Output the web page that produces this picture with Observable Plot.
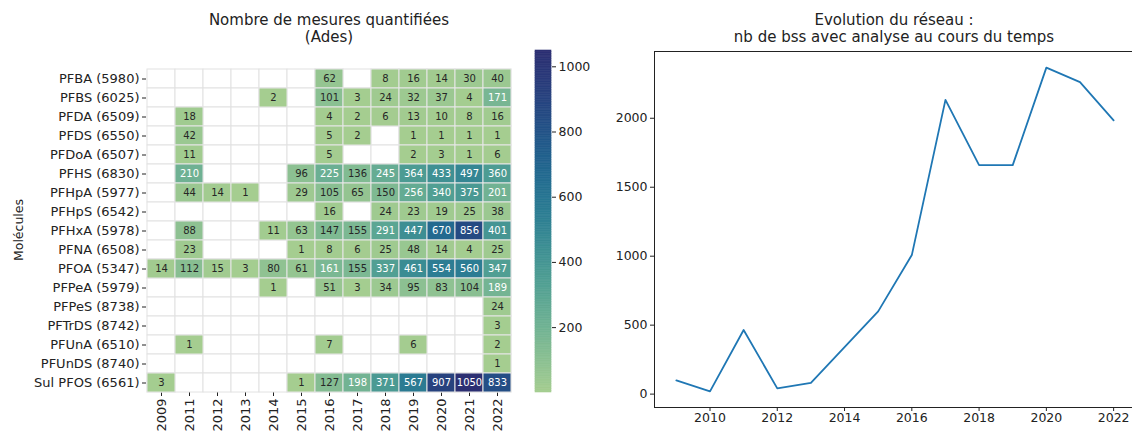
<!DOCTYPE html>
<html>
<head>
<meta charset="utf-8">
<script src="https://cdn.jsdelivr.net/npm/d3@7"></script>
<script src="https://cdn.jsdelivr.net/npm/@observablehq/plot@0.6"></script>
<style>
  html, body { margin: 0; padding: 0; background: #fff; }
  #wrap { position: relative; width: 1132px; height: 432px; overflow: hidden; font-family: "DejaVu Sans", sans-serif; color: #222; }
  .abs { position: absolute; }
  .title { font-size: 15px; text-align: center; line-height: 17px; white-space: nowrap; }
  svg { overflow: visible; }
</style>
</head>
<body>
<div id="wrap"></div>
<script>
// ---------- Heatmap data ----------
const years = ["2009","2011","2012","2013","2014","2015","2016","2017","2018","2019","2020","2021","2022"];
const molecules = ["PFBA (5980)","PFBS (6025)","PFDA (6509)","PFDS (6550)","PFDoA (6507)","PFHS (6830)","PFHpA (5977)","PFHpS (6542)","PFHxA (5978)","PFNA (6508)","PFOA (5347)","PFPeA (5979)","PFPeS (8738)","PFTrDS (8742)","PFUnA (6510)","PFUnDS (8740)","Sul PFOS (6561)"];
// one array per molecule, aligned with `years` (null = no measure)
const PFBA   = [null,null,null,null,null,null,62,null,8,16,14,30,40];
const PFBS   = [null,null,null,null,2,null,101,3,24,32,37,4,171];
const PFDA   = [null,18,null,null,null,null,4,2,6,13,10,8,16];
const PFDS   = [null,42,null,null,null,null,5,2,null,1,1,1,1];
const PFDoA  = [null,11,null,null,null,null,5,null,null,2,3,1,6];
const PFHS   = [null,210,null,null,null,96,225,136,245,364,433,497,360];
const PFHpA  = [null,44,14,1,null,29,105,65,150,256,340,375,201];
const PFHpS  = [null,null,null,null,null,null,16,null,24,23,19,25,38];
const PFHxA  = [null,88,null,null,11,63,147,155,291,447,670,856,401];
const PFNA   = [null,23,null,null,null,1,8,6,25,48,14,4,25];
const PFOA   = [14,112,15,3,80,61,161,155,337,461,554,560,347];
const PFPeA  = [null,null,null,null,1,null,51,3,34,95,83,104,189];
const PFPeS  = [null,null,null,null,null,null,null,null,null,null,null,null,24];
const PFTrDS = [null,null,null,null,null,null,null,null,null,null,null,null,3];
const PFUnA  = [null,1,null,null,null,null,7,null,null,6,null,null,2];
const PFUnDS = [null,null,null,null,null,null,null,null,null,null,null,null,1];
const SulPFOS= [3,null,null,null,null,1,127,198,371,567,907,1050,833];
const heatRows = [PFBA,PFBS,PFDA,PFDS,PFDoA,PFHS,PFHpA,PFHpS,PFHxA,PFNA,PFOA,PFPeA,PFPeS,PFTrDS,PFUnA,PFUnDS,SulPFOS];
const colorTicks = [200,400,600,800,1000];

// ---------- Line chart data ----------
const lineYears = [2009,2010,2011,2012,2013,2014,2015,2016,2017,2018,2019,2020,2021,2022];
const lineValues = [100,20,465,42,82,340,600,1008,2133,1660,1660,2367,2262,1985];
const lineXTicks = [2010,2012,2014,2016,2018,2020,2022];
const lineYTicks = [0,500,1000,1500,2000];

// ---------- build tables ----------
const grid = [];
const cells = [];
molecules.forEach((m, i) => years.forEach((y, j) => {
  grid.push({mol: m, year: y});
  const v = heatRows[i][j];
  if (v != null) cells.push({mol: m, year: y, value: v});
}));

const crest = d3.interpolateRgbBasis(["#a5cd90","#7db993","#58a593","#3b8e93","#257593","#1f5c8c","#28427f","#2c2f72"]);
const colorDomain = [1, 1050];
const colorOpt = {type: "linear", domain: colorDomain, interpolate: crest};

const wrap = document.getElementById("wrap");
function place(el, left, top) { el.style.position = "absolute"; el.style.left = left + "px"; el.style.top = top + "px"; wrap.appendChild(el); return el; }
function addText(html, left, top, cls, extra) {
  const d = document.createElement("div");
  d.className = "abs " + (cls || "");
  d.innerHTML = html;
  d.style.left = left + "px"; d.style.top = top + "px";
  if (extra) Object.assign(d.style, extra);
  wrap.appendChild(d);
  return d;
}

// ---------- Heatmap ----------
const heat = Plot.plot({
  width: 525, height: 432,
  marginLeft: 146, marginRight: 13, marginTop: 68, marginBottom: 40,
  style: {fontFamily: "DejaVu Sans, sans-serif", fontSize: "13px", color: "#222", background: "transparent"},
  x: {domain: years, padding: 0, label: null, tickRotate: -90, tickSize: 4, tickPadding: 2},
  y: {domain: molecules, padding: 0, label: null, tickSize: 4, tickPadding: 3},
  color: colorOpt,
  marks: [
    Plot.cell(grid, {x: "year", y: "mol", fill: "white", stroke: "#e2e2e2", strokeWidth: 1, inset: 0}),
    Plot.cell(cells, {x: "year", y: "mol", fill: "value", stroke: "#e6e6e6", strokeWidth: 1, inset: 0}),
    Plot.text(cells, {x: "year", y: "mol", text: d => String(d.value), fontSize: 10,
      fill: d => d.value >= 158 ? "#ffffff" : "#262626"})
  ]
});
place(heat, 0, 0);

// colorbar
const bands = d3.range(0, 200).map(i => {
  const a = colorDomain[0] + (colorDomain[1] - colorDomain[0]) * i / 200;
  const b = colorDomain[0] + (colorDomain[1] - colorDomain[0]) * (i + 1) / 200;
  return {y1: a, y2: b, v: (a + b) / 2};
});
const cbar = Plot.plot({
  width: 60, height: 432,
  marginLeft: 0, marginRight: 44, marginTop: 50, marginBottom: 40,
  style: {fontFamily: "DejaVu Sans, sans-serif", fontSize: "12.5px", color: "#222", background: "transparent"},
  x: {axis: null, domain: [0, 1]},
  y: {domain: colorDomain, ticks: colorTicks, tickFormat: d3.format("d"), tickSize: 4, tickPadding: 3, label: null, axis: "right"},
  color: colorOpt,
  marks: [
    Plot.rect(bands, {x1: 0, x2: 1, y1: "y1", y2: "y2", fill: "v", stroke: "v", strokeWidth: 0.6})
  ]
});
place(cbar, 535, 0);

addText("Nombre de mesures quantifiées<br>(Ades)", 129, 12, "title", {width: "400px"});
addText("Molécules", 18, 230, "", {fontSize: "12.5px", transform: "translate(-50%,-50%) rotate(-90deg)", whiteSpace: "nowrap"});

// ---------- Line chart ----------
const lineData = lineYears.map((y, i) => ({year: y, n: lineValues[i]}));
const line = Plot.plot({
  width: 545, height: 432,
  marginLeft: 64, marginRight: 0, marginTop: 51, marginBottom: 25,
  style: {fontFamily: "DejaVu Sans, sans-serif", fontSize: "12.5px", color: "#222", background: "transparent"},
  x: {domain: [2008.35, 2022.65], ticks: lineXTicks, tickFormat: d3.format("d"), tickSize: 4, tickPadding: 2, label: null},
  y: {domain: [-97, 2484], ticks: lineYTicks, tickFormat: d3.format("d"), tickSize: 4, tickPadding: 3, label: null},
  marks: [
    Plot.frame({stroke: "#222", strokeWidth: 1}),
    Plot.line(lineData, {x: "year", y: "n", stroke: "#1f77b4", strokeWidth: 1.8})
  ]
});
place(line, 590, 0);

addText("Evolution du réseau :<br>nb de bss avec analyse au cours du temps", 694, 12, "title", {width: "400px"});
</script>
</body>
</html>
